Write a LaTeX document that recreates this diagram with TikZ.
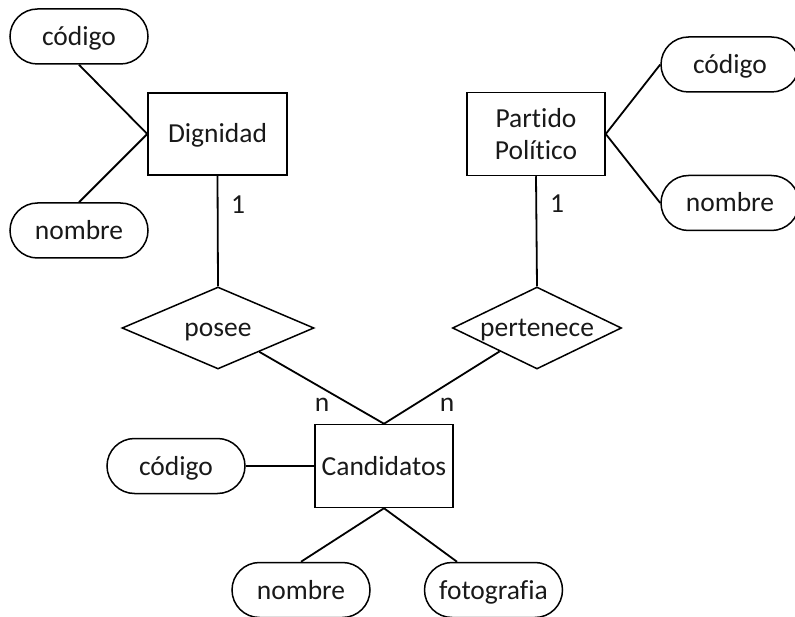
\documentclass[tikz,border=0pt]{standalone}
\usepackage{fontspec}
\setmainfont{Carlito}[Ligatures=NoCommon]
\usetikzlibrary{shapes.geometric,shapes.misc}
\begin{document}
\begin{tikzpicture}[x=1pt,y=-1pt,
  every node/.style={font=\fontsize{27.5}{32}\selectfont, text=black!90},
  oneline/.style={text height=20pt, text depth=2pt},
  entity/.style={draw, line width=1.5pt, minimum width=138pt, minimum height=83pt, inner sep=0pt, align=center},
  attrib/.style={draw, line width=1.5pt, rounded rectangle, minimum width=138pt, minimum height=55pt, inner sep=0pt, oneline},
  relation/.style={draw, line width=1.5pt, diamond, minimum height=82pt, inner sep=0pt, oneline},
  link/.style={line width=1.8pt},
  card/.style={inner sep=0pt}]
\useasboundingbox (0,0) rectangle (795,617);

% entities
\node[entity, minimum width=139pt, minimum height=82pt, oneline] (dig) at (217.5,134) {Dignidad};
\node[entity] (par) at (536,134) {Partido\\Político};
\node[entity, oneline] (cand) at (384,466) {Candidatos};

% relationships (labels take no width, so the outline keeps its set size)
\node[relation, minimum width=192pt] (posee) at (218,328) {\makebox[0pt]{posee}};
\node[relation, minimum width=169pt] (pert) at (537,328) {\makebox[0pt]{pertenece}};

% attributes
\node[attrib] (cod1) at (79,36.5) {código};
\node[attrib] (nom1) at (79,230.5) {nombre};
\node[attrib] (cod2) at (730,64.5) {código};
\node[attrib] (nom2) at (730,203) {nombre};
\node[attrib] (cod3) at (176,466) {código};
\node[attrib] (nom3) at (301,590) {nombre};
\node[attrib] (foto) at (493.5,590) {fotografia};

% cardinalities
\node[card] (c1) at (238,205) {1};
\node[card] (c2) at (557,204) {1};
\node[card] (c3) at (322,405) {n};
\node[card] (c4) at (447,405) {n};

% connectors
\draw[link] (dig.west) -- (cod1.south);
\draw[link] (dig.west) -- (nom1.north);
\draw[link] (dig.south) -- (posee.north);
\draw[link] (par.east) -- (cod2.west);
\draw[link] (par.east) -- (nom2.west);
\draw[link] (par.south) -- (pert.north);
\draw[link] (posee) -- (cand.north);
\draw[link] (pert) -- (cand.north);
\draw[link] (cand.west) -- (cod3.east);
\draw[link] (cand.south) -- (nom3.north);
\coordinate (fototop) at ([xshift=-36.5pt]foto.north);
\draw[link] (cand.south) -- (fototop);
\end{tikzpicture}
\end{document}
